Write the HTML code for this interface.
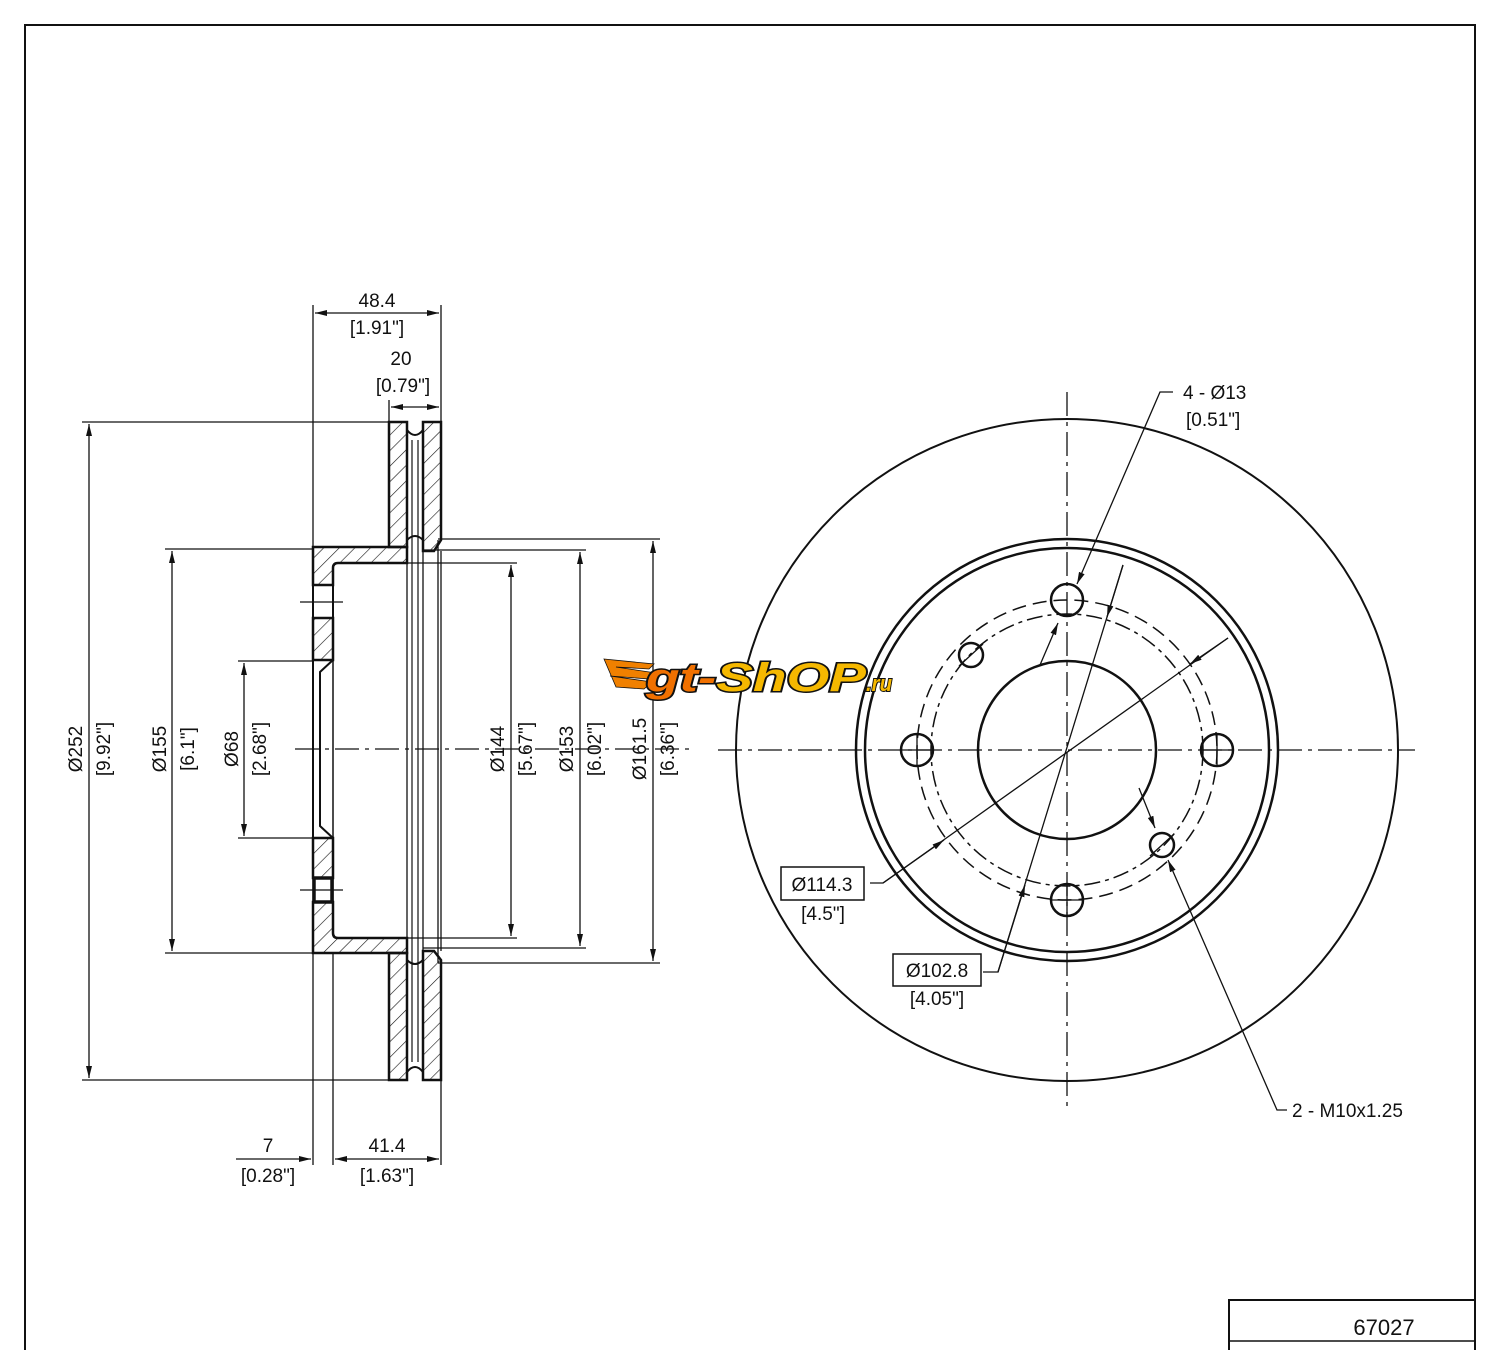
<!DOCTYPE html>
<html><head><meta charset="utf-8"><style>
html,body{margin:0;padding:0;background:#fff}
svg{display:block}
text{font-family:"Liberation Sans",sans-serif;font-size:19px;fill:#111}
</style></head><body>
<svg width="1500" height="1350" viewBox="0 0 1500 1350" xmlns="http://www.w3.org/2000/svg">
<defs>
<marker id="a" viewBox="0 0 12 6" refX="12" refY="3" markerWidth="12" markerHeight="6" orient="auto-start-reverse" markerUnits="userSpaceOnUse"><path d="M0,0 L12,3 L0,6 z" fill="#111"/></marker>
<pattern id="h" width="11" height="11" patternUnits="userSpaceOnUse" patternTransform="rotate(45)"><line x1="0" y1="0" x2="0" y2="11" stroke="#111" stroke-width="1.2"/></pattern>
</defs>
<g fill="none" stroke="#111">
<path d="M25,1350 V25 H1475 V1350" stroke-width="2"/>
<rect x="1229" y="1300" width="246" height="60" stroke-width="2"/>
<line x1="1229" y1="1341" x2="1475" y2="1341" stroke-width="1.5"/>

<g fill="url(#h)" stroke-width="2.5">
<path d="M389,422 H407 V547 H389 Z"/>
<path d="M423,422 H441 V540 L434,551 H423 Z"/>
<path d="M313,547 H407 V563 H338 Q333,563 333,568 V585 H313 Z"/>
<path d="M313,618 H333 V660 H313 Z"/>
<path d="M313,838 H333 V878 H313 Z"/>
<path d="M313,902 H333 V933 Q333,938 338,938 H407 V953 H313 Z"/>
<path d="M389,953 H407 V1080 H389 Z"/>
<path d="M423,951 H434 L441,960 V1080 H423 Z"/>
</g>
<rect x="314" y="878" width="18" height="24" stroke-width="3.5"/>
<path d="M333,660 L320,672 V826 L333,838" stroke-width="2"/>
<line x1="313" y1="585" x2="313" y2="618" stroke-width="2"/>
<line x1="333" y1="585" x2="333" y2="618" stroke-width="2"/>
<line x1="313" y1="660" x2="313" y2="838" stroke-width="2"/>
<line x1="333" y1="568" x2="333" y2="933" stroke-width="1.5"/>
<line x1="300" y1="602" x2="343" y2="602" stroke-width="1.3"/>
<line x1="300" y1="890" x2="343" y2="890" stroke-width="1.3"/>
<path d="M407,547 V430 M423,430 V547 M407,430 Q415,440 423,430 M407,540 Q415,532 423,540" stroke-width="2"/>
<path d="M407,953 V1072 M423,953 V1072 M407,1072 Q415,1062 423,1072 M407,960 Q415,968 423,960" stroke-width="2"/>
<line x1="412" y1="440" x2="412" y2="1062" stroke-width="1.2"/>
<line x1="418" y1="440" x2="418" y2="1062" stroke-width="1.2"/>
<line x1="407" y1="547" x2="407" y2="953" stroke-width="1.3"/>
<line x1="423" y1="551" x2="423" y2="951" stroke-width="1.3"/>
<line x1="438" y1="540" x2="438" y2="963" stroke-width="1.3"/>
<line x1="441" y1="551" x2="441" y2="951" stroke-width="1.3"/>

<g stroke-width="1.3">
<line x1="313" y1="305" x2="313" y2="1165"/>
<line x1="441" y1="305" x2="441" y2="422"/>
<line x1="441" y1="1080" x2="441" y2="1165"/>
<line x1="389" y1="400" x2="389" y2="422"/>
<line x1="333" y1="953" x2="333" y2="1165"/>
<line x1="82" y1="422" x2="389" y2="422"/>
<line x1="82" y1="1080" x2="389" y2="1080"/>
<line x1="165" y1="549" x2="313" y2="549"/>
<line x1="165" y1="953" x2="313" y2="953"/>
<line x1="238" y1="661" x2="313" y2="661"/>
<line x1="238" y1="838" x2="313" y2="838"/>
<line x1="438" y1="539" x2="660" y2="539"/>
<line x1="423" y1="550" x2="586" y2="550"/>
<line x1="338" y1="563" x2="517" y2="563"/>
<line x1="338" y1="938" x2="517" y2="938"/>
<line x1="423" y1="948" x2="586" y2="948"/>
<line x1="438" y1="963" x2="660" y2="963"/>
</g>
<g stroke-width="1.3" marker-start="url(#a)" marker-end="url(#a)">
<line x1="89" y1="424" x2="89" y2="1078"/>
<line x1="172" y1="551" x2="172" y2="951"/>
<line x1="244" y1="663" x2="244" y2="836"/>
<line x1="511" y1="565" x2="511" y2="936"/>
<line x1="580" y1="552" x2="580" y2="946"/>
<line x1="653" y1="541" x2="653" y2="961"/>
<line x1="315" y1="313" x2="439" y2="313"/>
<line x1="391" y1="407" x2="439" y2="407"/>
<line x1="335" y1="1159" x2="439" y2="1159"/>
</g>
<line x1="236" y1="1159" x2="311" y2="1159" stroke-width="1.3" marker-end="url(#a)"/>
<line x1="295" y1="749" x2="690" y2="749" stroke-width="1.2" stroke-dasharray="24,6,4,6"/>

<circle cx="1067" cy="750" r="331" stroke-width="2"/>
<circle cx="1067" cy="750" r="211" stroke-width="2.5"/>
<circle cx="1067" cy="750" r="202" stroke-width="2.5"/>
<circle cx="1067" cy="750" r="89" stroke-width="2.5"/>
<circle cx="1067" cy="750" r="150" stroke-width="1.5" stroke-dasharray="14,7"/>
<circle cx="1067" cy="750" r="136" stroke-width="1.5" stroke-dasharray="16,5,4,5"/>
<g stroke-width="2.5">
<circle cx="917" cy="750" r="16"/><circle cx="1217" cy="750" r="16"/>
<circle cx="1067" cy="600" r="16"/><circle cx="1067" cy="900" r="16"/>
<circle cx="971" cy="655" r="12"/><circle cx="1162" cy="845" r="12"/>
</g>
<line x1="718" y1="750" x2="1415" y2="750" stroke-width="1.3" stroke-dasharray="24,6,4,6"/>
<line x1="1067" y1="392" x2="1067" y2="1110" stroke-width="1.3" stroke-dasharray="24,6,4,6"/>
<g stroke-width="1.3">
<line x1="959" y1="666" x2="983" y2="644"/>
<line x1="1150" y1="856" x2="1174" y2="834"/>
<line x1="900" y1="750" x2="934" y2="750"/>
<line x1="1200" y1="750" x2="1234" y2="750"/>
<line x1="917" y1="734" x2="917" y2="766"/>
<line x1="1217" y1="734" x2="1217" y2="766"/>
<line x1="1067" y1="883" x2="1067" y2="917"/>
<line x1="1050" y1="900" x2="1084" y2="900"/>
<polyline points="1173,392 1160,392 1077,584" marker-end="url(#a)"/>
<line x1="1040" y1="665" x2="1058" y2="623" marker-end="url(#a)"/>
<polyline points="870,883 883,883 1228,638"/>
<line x1="883" y1="883" x2="944" y2="840" marker-end="url(#a)"/>
<line x1="1228" y1="638" x2="1190" y2="664" marker-end="url(#a)"/>
<polyline points="983,972 998,972 1123,565"/>
<line x1="998" y1="972" x2="1025" y2="885" marker-end="url(#a)"/>
<line x1="1123" y1="565" x2="1107" y2="617" marker-end="url(#a)"/>
<line x1="1139" y1="788" x2="1155" y2="828" marker-end="url(#a)"/>
<polyline points="1287,1110 1277,1110 1168,860" marker-end="url(#a)"/>
</g>
<rect x="781" y="867" width="83" height="33" stroke-width="1.5"/>
<rect x="893" y="954" width="88" height="32" stroke-width="1.5"/>
</g>

<text x="377" y="307" text-anchor="middle">48.4</text>
<text x="377" y="334" text-anchor="middle">[1.91"]</text>
<text x="401" y="365" text-anchor="middle">20</text>
<text x="403" y="392" text-anchor="middle">[0.79"]</text>
<text x="268" y="1152" text-anchor="middle">7</text>
<text x="268" y="1182" text-anchor="middle">[0.28"]</text>
<text x="387" y="1152" text-anchor="middle">41.4</text>
<text x="387" y="1182" text-anchor="middle">[1.63"]</text>
<g text-anchor="middle">
<text transform="translate(82,749) rotate(-90)">Ø252</text>
<text transform="translate(110,749) rotate(-90)">[9.92"]</text>
<text transform="translate(166,749) rotate(-90)">Ø155</text>
<text transform="translate(194,749) rotate(-90)">[6.1"]</text>
<text transform="translate(238,749) rotate(-90)">Ø68</text>
<text transform="translate(266,749) rotate(-90)">[2.68"]</text>
<text transform="translate(504,749) rotate(-90)">Ø144</text>
<text transform="translate(532,749) rotate(-90)">[5.67"]</text>
<text transform="translate(573,749) rotate(-90)">Ø153</text>
<text transform="translate(601,749) rotate(-90)">[6.02"]</text>
<text transform="translate(646,749) rotate(-90)">Ø161.5</text>
<text transform="translate(674,749) rotate(-90)">[6.36"]</text>
</g>
<text x="1183" y="399">4 - Ø13</text>
<text x="1186" y="426">[0.51"]</text>
<text x="822" y="891" text-anchor="middle">Ø114.3</text>
<text x="823" y="920" text-anchor="middle">[4.5"]</text>
<text x="937" y="977" text-anchor="middle">Ø102.8</text>
<text x="937" y="1005" text-anchor="middle">[4.05"]</text>
<text x="1292" y="1117">2 - M10x1.25</text>
<text x="1384" y="1335" text-anchor="middle" style="font-size:22px">67027</text>

<g transform="translate(604,657)">
<path d="M0,2 L50,7 L45,12 L12,10 L52,16 L45,22 L6,19 L48,25 L40,32 L12,30 Z" fill="#f08000" stroke="#111" stroke-width="0.8"/>
<text x="42" y="34" textLength="220" lengthAdjust="spacingAndGlyphs" style="font-size:40px;font-weight:bold;font-style:italic;stroke:#111;stroke-width:3;paint-order:stroke"><tspan style="fill:#f07000">gt-</tspan><tspan style="fill:#f5b800">ShOP</tspan></text>
<text x="262" y="34" textLength="26" lengthAdjust="spacingAndGlyphs" style="font-size:22px;font-weight:bold;font-style:italic;fill:#f5b800;stroke:#111;stroke-width:2;paint-order:stroke">.ru</text>
</g>
</svg>
</body></html>
